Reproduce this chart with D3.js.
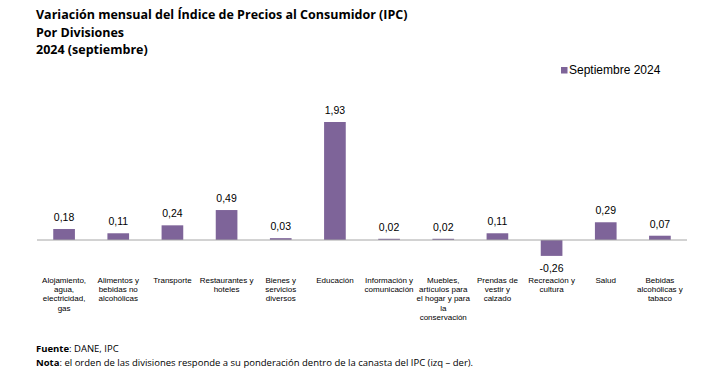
<!DOCTYPE html>
<html><head><meta charset="utf-8">
<script src="https://cdn.jsdelivr.net/npm/d3@7"></script>
<style>body{margin:0;background:#fff}svg{display:block}</style>
</head><body>
<script>
const categories = [
  "Alojamiento,\nagua,\nelectricidad,\ngas",
  "Alimentos y\nbebidas no\nalcohólicas",
  "Transporte",
  "Restaurantes y\nhoteles",
  "Bienes y\nservicios\ndiversos",
  "Educación",
  "Información y\ncomunicación",
  "Muebles,\nartículos para\nel hogar y para\nla\nconservación",
  "Prendas de\nvestir y\ncalzado",
  "Recreación y\ncultura",
  "Salud",
  "Bebidas\nalcohólicas y\ntabaco"
];
const values = [0.18, 0.11, 0.24, 0.49, 0.03, 1.93, 0.02, 0.02, 0.11, -0.26, 0.29, 0.07];
const seriesName = "Septiembre 2024";
const titleLines = ["Variación mensual del Índice de Precios al Consumidor (IPC)", "Por Divisiones", "2024 (septiembre)"];

const W = 725, H = 379;
const svg = d3.select("body").append("svg").attr("width", W).attr("height", H);
const color = "#7e6499";

const x = d3.scaleBand().domain(d3.range(categories.length)).range([37, 687]).paddingInner(0.6).paddingOuter(0.3);
const y = d3.scaleLinear().domain([0, 1.93]).range([240, 122]);

// title
const tt = svg.append("text").attr("font-family", "'Open Sans', sans-serif").attr("font-weight", "bold").attr("font-size", 12.5).attr("fill", "#000");
titleLines.forEach((t, i) => tt.append("tspan").attr("x", 36).attr("y", 19 + i * 17.5).text(t));

// legend
svg.append("rect").attr("x", 561).attr("y", 67).attr("width", 6.5).attr("height", 6.5).attr("fill", color);
svg.append("text").attr("x", 569).attr("y", 74).attr("font-family", "Arial, 'Liberation Sans', sans-serif").attr("font-size", 12).text(seriesName);

// bars
svg.selectAll("rect.bar").data(values).join("rect").attr("class", "bar")
  .attr("x", (d, i) => x(i)).attr("width", x.bandwidth())
  .attr("y", d => y(Math.max(0, d))).attr("height", d => Math.abs(y(d) - y(0)))
  .attr("fill", color);

// axis line
svg.append("line").attr("x1", 37).attr("x2", 687).attr("y1", y(0)).attr("y2", y(0)).attr("stroke", "#a6a6a6").attr("stroke-width", 1);

// value labels
const fmt = d => d3.format(".2f")(d).replace(".", ",").replace("−", "-");
svg.selectAll("text.val").data(values).join("text").attr("class", "val")
  .attr("x", (d, i) => x(i) + x.bandwidth() / 2)
  .attr("y", d => d >= 0 ? y(d) - 8 : y(d) + 16)
  .attr("text-anchor", "middle").attr("font-family", "Arial, 'Liberation Sans', sans-serif").attr("font-size", 10.5)
  .text(d => fmt(d));

// category labels
categories.forEach((c, i) => {
  const t = svg.append("text").attr("text-anchor", "middle").attr("font-family", "Arial, 'Liberation Sans', sans-serif").attr("font-size", 8).attr("fill", "#000");
  c.split("\n").forEach((line, j) => t.append("tspan").attr("x", x(i) + x.bandwidth() / 2).attr("y", 283 + j * 9.2).text(line));
});

// footer
const f1 = svg.append("text").attr("x", 36).attr("y", 352).attr("font-family", "'Open Sans', sans-serif").attr("font-size", 9.5);
f1.append("tspan").attr("font-weight", "bold").text("Fuente");
f1.append("tspan").text(": DANE, IPC");
const f2 = svg.append("text").attr("x", 36).attr("y", 366).attr("font-family", "'Open Sans', sans-serif").attr("font-size", 9.5);
f2.append("tspan").attr("font-weight", "bold").text("Nota");
f2.append("tspan").text(": el orden de las divisiones responde a su ponderación dentro de la canasta del IPC (izq – der).");
</script>
</body></html>
